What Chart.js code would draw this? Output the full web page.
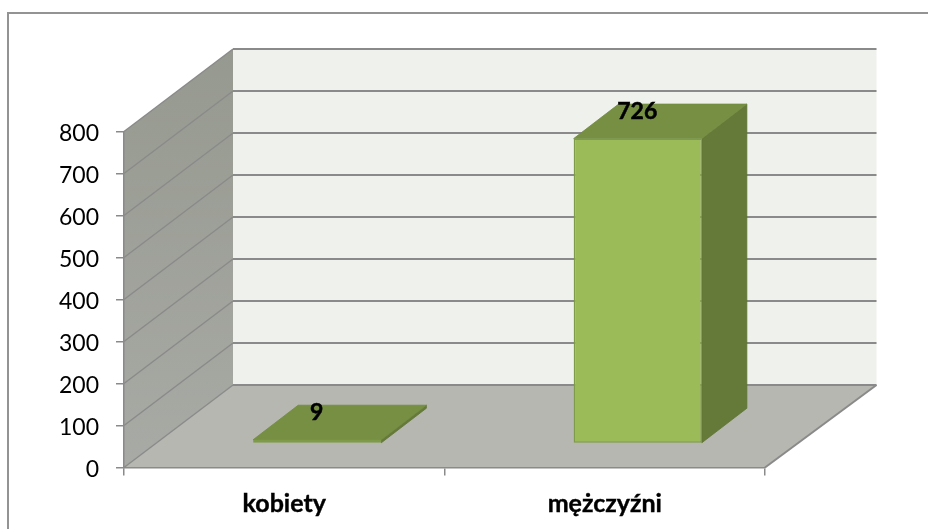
<!DOCTYPE html>
<html><head><meta charset="utf-8">
<style>html,body{margin:0;padding:0;background:#fff}canvas{display:block}</style>
<script src="https://cdn.jsdelivr.net/npm/chart.js@4"></script>
</head><body>
<canvas id="c" width="928" height="529"></canvas>
<script>
const categories = ['kobiety', 'mężczyźni'];
const values = [9, 726];
const yTicks = [0, 100, 200, 300, 400, 500, 600, 700, 800];

const FONT = 'Lato, "Open Sans", sans-serif';
const LINE = '#8a8a8a';
const WALL_DX = 109, WALL_DY = 82.5;   // depth of the 3D box
const BACK_EXTRA = 2.5;                // back wall is a little wider than the front
const BAR_OX = 33, BAR_OY = 24;        // bar offset into the box
const BAR_DX = 45, BAR_DY = 34.5;      // bar depth

function poly(ctx, pts, fill, stroke, lw) {
  ctx.beginPath();
  pts.forEach((p, i) => i ? ctx.lineTo(p[0], p[1]) : ctx.moveTo(p[0], p[1]));
  ctx.closePath();
  if (fill) { ctx.fillStyle = fill; ctx.fill(); }
  if (stroke) { ctx.strokeStyle = stroke; ctx.lineWidth = lw || 1; ctx.stroke(); }
}

const box3d = {
  id: 'box3d',
  afterLayout(chart) {
    // nudge the value-axis labels down to sit where the reference has them
    chart.scales.y.getLabelItems().forEach(it => { it.options.translation[1] += 2; });
  },
  beforeDraw(chart) {
    const { ctx, chartArea: a, scales: { y } } = chart;
    ctx.save();
    ctx.fillStyle = '#fff';
    ctx.fillRect(0, 0, chart.width, chart.height);
    ctx.strokeStyle = '#939393'; ctx.lineWidth = 2;
    ctx.beginPath();
    ctx.moveTo(928, 13); ctx.lineTo(8, 13); ctx.lineTo(8, 529);
    ctx.stroke();
    const l = a.left, r = a.right, t = a.top, b = a.bottom;
    const rb = r + WALL_DX + BACK_EXTRA;
    // back wall
    poly(ctx, [[l + WALL_DX, t - WALL_DY], [rb, t - WALL_DY], [rb, b - WALL_DY], [l + WALL_DX, b - WALL_DY]], '#eff2ec');
    // side wall
    const g = ctx.createLinearGradient(0, t - WALL_DY, 0, b);
    g.addColorStop(0, '#96998f'); g.addColorStop(1, '#a8aaa5');
    poly(ctx, [[l, t], [l + WALL_DX, t - WALL_DY], [l + WALL_DX, b - WALL_DY], [l, b]], g);
    // floor
    poly(ctx, [[l, b], [l + WALL_DX, b - WALL_DY], [rb, b - WALL_DY], [r, b]], '#b5b7b0');
    // grid lines
    ctx.strokeStyle = LINE;
    yTicks.forEach(v => {
      const py = y.getPixelForValue(v);
      ctx.lineWidth = 1.4;
      ctx.beginPath();
      ctx.moveTo(l, py);
      ctx.lineTo(l + WALL_DX, py - WALL_DY);
      ctx.stroke();
      ctx.lineWidth = 2;
      ctx.beginPath();
      ctx.moveTo(l + WALL_DX, py - WALL_DY);
      ctx.lineTo(rb, py - WALL_DY);
      ctx.stroke();
      if (v === 0) {
        ctx.beginPath();
        ctx.moveTo(r, py); ctx.lineTo(rb, py - WALL_DY);
        ctx.stroke();
      }
    });
    ctx.restore();
  },
  beforeDatasetsDraw(chart) {
    const { ctx } = chart;
    ctx.save();
    ctx.translate(BAR_OX, -BAR_OY);
    chart.getDatasetMeta(0).data.forEach(bar => {
      const L = bar.x - bar.width / 2, R = bar.x + bar.width / 2;
      const T = bar.y, B = bar.base;
      poly(ctx, [[R, T], [R + BAR_DX, T - BAR_DY], [R + BAR_DX, B - BAR_DY], [R, B]], '#657a38', '#5f7335', 0.8);
      poly(ctx, [[L, T], [L + BAR_DX, T - BAR_DY], [R + BAR_DX, T - BAR_DY], [R, T]], '#768f43', '#718a3f', 0.8);
    });
  },
  afterDatasetsDraw(chart) {
    const { ctx } = chart;
    ctx.restore();
    ctx.save();
    ctx.fillStyle = '#000';
    ctx.strokeStyle = '#000';
    ctx.lineWidth = 0.5;
    ctx.font = 'bold 23px ' + FONT;
    ctx.textAlign = 'center';
    ctx.textBaseline = 'middle';
    chart.getDatasetMeta(0).data.forEach((bar, i) => {
      const tx = bar.x + BAR_OX - 0.5, ty = bar.y - BAR_OY - 27;
      ctx.fillText(String(values[i]), tx, ty);
      ctx.strokeText(String(values[i]), tx, ty);
    });
    ctx.restore();
  }
};

new Chart(document.getElementById('c'), {
  type: 'bar',
  data: {
    labels: categories,
    datasets: [{
      data: values,
      backgroundColor: '#9bbb59',
      borderColor: '#7e9b48',
      borderWidth: 1.5,
      borderSkipped: false,
      categoryPercentage: 1,
      barPercentage: 0.4,
      clip: false
    }]
  },
  plugins: [box3d],
  options: {
    responsive: false,
    animation: false,
    layout: { padding: { top: 131.5, right: 163, left: 0, bottom: 0 } },
    plugins: { legend: { display: false }, title: { display: false }, tooltip: { enabled: false } },
    scales: {
      x: {
        afterFit: s => { s.height = 61.5; },
        grid: { drawOnChartArea: false, drawTicks: true, tickLength: 8, color: LINE, lineWidth: 1.5 },
        border: { color: LINE, width: 1.5 },
        ticks: { color: '#000', padding: 13, maxRotation: 0, textStrokeColor: '#000', textStrokeWidth: 0.4, font: { family: FONT, size: 25, weight: 'bold' } }
      },
      y: {
        min: 0, max: 800,
        afterFit: s => { s.width = 124; },
        afterBuildTicks: s => { s.ticks = yTicks.map(v => ({ value: v })); },
        grid: { drawOnChartArea: false, drawTicks: true, tickLength: 8, color: LINE, lineWidth: 1.5 },
        border: { color: LINE, width: 1.5 },
        ticks: { color: '#000', padding: 17, font: { family: FONT, size: 23 } }
      }
    }
  }
});
</script>
</body></html>
